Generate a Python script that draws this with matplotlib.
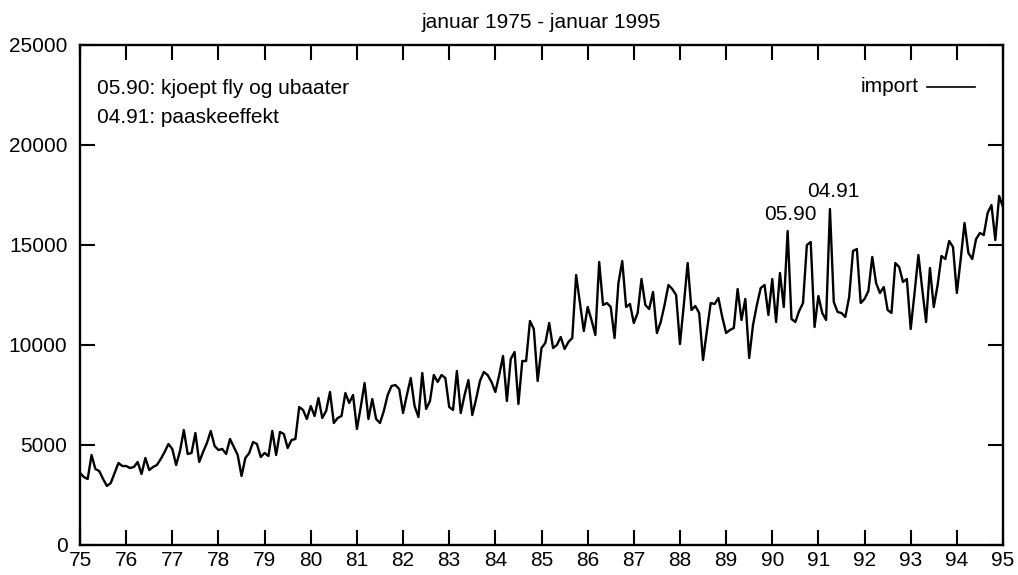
import matplotlib
matplotlib.use("Agg")
import matplotlib.pyplot as plt
import numpy as np

plt.rcParams['font.family'] = ['Liberation Sans', 'DejaVu Sans']

# Monthly import values, Jan 1975 .. Jan 1995
import_1975_1979 = [
    3600, 3400, 3300, 4500, 3800, 3700, 3300, 2950, 3100, 3600, 4100, 3950,
    3950, 3850, 3900, 4150, 3550, 4350, 3750, 3900, 4000, 4300, 4650, 5050,
    4800, 4000, 4700, 5750, 4550, 4600, 5600, 4150, 4650, 5100, 5700, 4950,
    4750, 4800, 4550, 5300, 4900, 4500, 3450, 4350, 4600, 5150, 5050, 4400,
    4600, 4450, 5700, 4500, 5650, 5550, 4850, 5250, 5300, 6900, 6750, 6300,
]
import_1980_1984 = [
    6950, 6450, 7350, 6350, 6700, 7650, 6100, 6350, 6450, 7600, 7100, 7500,
    5800, 6900, 8100, 6300, 7300, 6300, 6100, 6700, 7500, 7950, 8000, 7800,
    6600, 7500, 8350, 6950, 6400, 8600, 6800, 7200, 8500, 8150, 8500, 8350,
    6900, 6750, 8700, 6600, 7500, 8250, 6500, 7300, 8200, 8650, 8500, 8150,
    7650, 8500, 9450, 7200, 9300, 9650, 7050, 9200, 9200, 11200, 10800, 8200,
]
import_1985_1989 = [
    9850, 10100, 11100, 9850, 10000, 10400, 9800, 10150, 10350, 13500, 12100, 10700,
    11900, 11250, 10500, 14150, 12000, 12100, 11900, 10350, 13100, 14200, 11900, 12050,
    11100, 11600, 13300, 12000, 11800, 12650, 10600, 11150, 12000, 13000, 12800, 12500,
    10050, 12000, 14100, 11750, 11950, 11600, 9250, 10700, 12100, 12050, 12350, 11400,
    10600, 10750, 10850, 12800, 11250, 12300, 9350, 11000, 12000, 12850, 13000, 11500,
]
import_1990_1995 = [
    13300, 11150, 13600, 11900, 15700, 11300, 11150, 11700, 12100, 15000, 15150, 10900,
    12450, 11600, 11250, 16800, 12150, 11650, 11600, 11400, 12400, 14700, 14800, 12100,
    12300, 12700, 14400, 13100, 12600, 12900, 11750, 11600, 14100, 13900, 13150, 13300,
    10800, 12600, 14500, 12800, 11150, 13850, 11900, 13000, 14450, 14300, 15200, 14900,
    12600, 14300, 16100, 14600, 14300, 15300, 15600, 15500, 16600, 17000, 15250, 17450,
    16900,
]
values = import_1975_1979 + import_1980_1984 + import_1985_1989 + import_1990_1995
start_year = 75
x = start_year + np.arange(len(values)) / 12.0

year_ticks = list(range(75, 96))
y_ticks = [0, 5000, 10000, 15000, 20000, 25000]

notes = ["05.90: kjoept fly og ubaater", "04.91: paaskeeffekt"]
peak_labels = ["05.90", "04.91"]
peak_index = [184, 195]

FS = 15

fig = plt.figure(figsize=(10.18, 5.75), dpi=100)
ax = fig.add_axes([80 / 1018, 30 / 575, 923 / 1018, 500 / 575])

ax.plot(x, values, color='black', linewidth=1.7, label='import')

ax.set_xlim(75, 95)
ax.set_ylim(0, 25000)
ax.set_xticks(year_ticks)
ax.set_xticklabels([str(t) for t in year_ticks])
ax.set_yticks(y_ticks)
ax.set_yticklabels([str(t) for t in y_ticks])
ax.tick_params(direction='in', length=11, width=1.5, top=True, right=True,
               labelsize=FS)
ax.tick_params(axis='y', pad=9)
ax.tick_params(axis='x', pad=4)
for s in ax.spines.values():
    s.set_linewidth(1.7)

ax.set_title("januar 1975 - januar 1995", fontsize=FS, pad=12)

ax.text(0.018, 0.912, notes[0], transform=ax.transAxes, fontsize=FS,
        ha='left', va='center')
ax.text(0.018, 0.855, notes[1], transform=ax.transAxes, fontsize=FS,
        ha='left', va='center')

offsets = [(0.05, 350), (0.07, 400)]
for lbl, idx, (dx, dy) in zip(peak_labels, peak_index, offsets):
    ax.text(x[idx] + dx, values[idx] + dy, lbl, fontsize=FS,
            ha='center', va='bottom')

# legend in gnuplot style: label then line sample
ax.text(0.909, 0.916, "import", transform=ax.transAxes, fontsize=FS,
        ha='right', va='center')
ax.plot([0.918, 0.970], [0.916, 0.916], transform=ax.transAxes,
        color='black', linewidth=1.2)

fig.savefig("out.png", dpi=100)
